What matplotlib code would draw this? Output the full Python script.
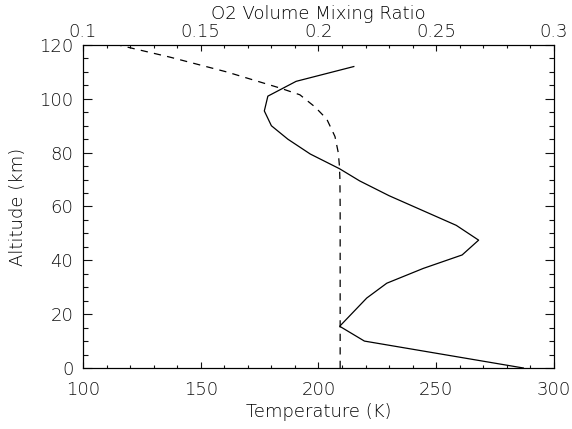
import matplotlib.pyplot as plt
from matplotlib.ticker import MultipleLocator

# temperature profile (K) vs altitude (km)
temp_alt = [0, 10, 15.5, 26, 31.5, 37, 42, 47.5, 53, 64, 69.5, 74, 79.5, 85, 90, 95.5, 101, 106.5, 112]
temp_k = [287, 219.5, 209, 220.5, 229, 244.5, 261, 268, 258.5, 230, 217.5, 209, 196.5, 187, 180, 177, 178.5, 190.5, 215]

# O2 volume mixing ratio vs altitude (km)
o2_alt = [0, 60, 70, 75, 80, 86, 92.5, 97, 101.5, 104, 110, 115.5, 120]
o2_vmr = [0.2092, 0.2092, 0.2091, 0.2089, 0.2084, 0.2070, 0.2035, 0.1985, 0.1921, 0.1837, 0.1610, 0.1369, 0.1150]

plt.rcParams['font.family'] = 'DejaVu Sans'
plt.rcParams['font.size'] = 13
plt.rcParams['font.weight'] = 'light'
plt.rcParams['axes.labelweight'] = 'light'
plt.rcParams['text.color'] = '#111111'
plt.rcParams['xtick.color'] = '#111111'
plt.rcParams['ytick.color'] = '#111111'

fig = plt.figure(figsize=(5.72, 4.29), dpi=100)
ax = fig.add_axes([0.1451, 0.1422, 0.8234, 0.7529])

ax.plot(temp_k, temp_alt, color='black', lw=0.9)
ax.set_xlim(100, 300)
ax.set_ylim(0, 120)
ax.xaxis.set_major_locator(MultipleLocator(50))
ax.xaxis.set_minor_locator(MultipleLocator(10))
ax.yaxis.set_major_locator(MultipleLocator(20))
ax.yaxis.set_minor_locator(MultipleLocator(5))
ax.set_xlabel("Temperature (K)", labelpad=2.5)
ax.set_ylabel("Altitude (km)", labelpad=9)

ax.tick_params(axis='x', which='major', direction='in', length=4.6, width=0.8, pad=9.5, top=False)
ax.tick_params(axis='x', which='minor', direction='in', length=2.3, width=0.8, top=False)
ax.tick_params(axis='y', which='major', direction='in', length=6.8, width=0.8, pad=7, right=True)
ax.tick_params(axis='y', which='minor', direction='in', length=3.4, width=0.8, right=True)

ax2 = ax.twiny()
ax2.plot(o2_vmr, o2_alt, color='black', lw=0.9, dashes=(5.8, 5.0))
ax2.set_xlim(0.1, 0.3)
ax2.xaxis.set_major_locator(MultipleLocator(0.05))
ax2.xaxis.set_minor_locator(MultipleLocator(0.01))
ax2.xaxis.set_major_formatter(plt.FuncFormatter(lambda v, p: '%g' % round(v, 3)))
ax2.set_xlabel("O2 Volume Mixing Ratio", labelpad=2.8)
ax2.tick_params(axis='x', which='major', direction='in', length=4.6, width=0.8, pad=2.8)
ax2.tick_params(axis='x', which='minor', direction='in', length=2.3, width=0.8)

for a in (ax, ax2):
    for s in a.spines.values():
        s.set_linewidth(0.8)

fig.savefig("out.png", dpi=100)
